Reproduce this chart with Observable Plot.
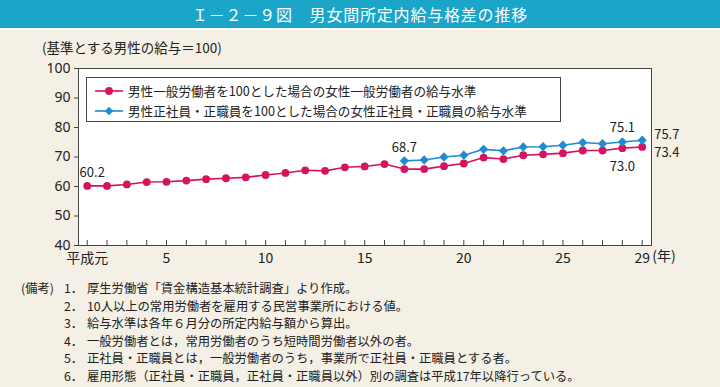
<!DOCTYPE html>
<html><head><meta charset="utf-8">
<script src="https://cdn.jsdelivr.net/npm/d3@7"></script>
<script src="https://cdn.jsdelivr.net/npm/@observablehq/plot@0.6"></script>
<style>
body{margin:0;background:#f4f0e6;font-family:"Noto Sans CJK JP","Noto Sans",sans-serif;color:#222;}
#wrap{position:relative;width:720px;height:387px;overflow:hidden;background:#f4f0e6;}
#title{position:absolute;left:0;top:0;width:720px;height:28px;background:#1ba5c9;border-bottom:2px solid #fff;color:#fff;font-size:16px;line-height:28px;text-align:center;letter-spacing:0.8px;}
#ylabel{position:absolute;left:42px;top:40px;font-size:13.5px;line-height:14px;white-space:nowrap;}
#chart{position:absolute;left:0;top:30px;}
#legend{position:absolute;left:86px;top:77px;width:473px;height:43px;border:1px solid #444;background:#fff;font-size:12.6px;}
.lrow{position:absolute;left:0;height:20px;line-height:20px;white-space:nowrap;}
.lrow svg{position:absolute;left:8px;top:4px;}
.lrow span{position:absolute;left:41px;top:0;}
.note{position:absolute;font-size:12.3px;line-height:16px;white-space:nowrap;}
</style></head>
<body>
<div id="wrap">
  <div id="title"></div>
  <div id="ylabel"></div>
  <div id="chart"></div>
  <div id="legend"></div>
  <div id="notes"></div>
</div>
<script>
// ---- data ----
const titleText = "Ｉ－２－９図　男女間所定内給与格差の推移";
const yAxisLabel = "(基準とする男性の給与＝100)";
const years = [1,2,3,4,5,6,7,8,9,10,11,12,13,14,15,16,17,18,19,20,21,22,23,24,25,26,27,28,29];
const generalRatio = [60.2,60.2,60.7,61.5,61.6,62.0,62.5,62.8,63.1,63.9,64.6,65.5,65.3,66.5,66.8,67.6,65.9,65.9,66.9,67.8,69.8,69.3,70.6,70.9,71.3,72.2,72.2,73.0,73.4];
const regularYears = [17,18,19,20,21,22,23,24,25,26,27,28,29];
const regularRatio = [68.7,69.0,70.0,70.6,72.6,72.1,73.4,73.5,74.0,74.9,74.5,75.1,75.7];
const xTickValues = [1,5,10,15,20,25,29];
const xTickLabels = ["平成元","5","10","15","20","25","29"];
const yTickValues = [40,50,60,70,80,90,100];
const yearUnit = "(年)";
const seriesNames = [
  "男性一般労働者を100とした場合の女性一般労働者の給与水準",
  "男性正社員・正職員を100とした場合の女性正社員・正職員の給与水準"
];
const noteHead = "(備考)";
const noteNums = ["1．","2．","3．","4．","5．","6．"];
const noteTexts = [
  "厚生労働省「賃金構造基本統計調査」より作成。",
  "10人以上の常用労働者を雇用する民営事業所における値。",
  "給与水準は各年６月分の所定内給与額から算出。",
  "一般労働者とは，常用労働者のうち短時間労働者以外の者。",
  "正社員・正職員とは，一般労働者のうち，事業所で正社員・正職員とする者。",
  "雇用形態（正社員・正職員，正社員・正職員以外）別の調査は平成17年以降行っている。"
];

// ---- build ----
const PINK = "#d6135f", BLUE = "#1f8bd3";
const FONT = '"Noto Sans CJK JP","Noto Sans",sans-serif';
document.getElementById("title").textContent = titleText;
document.getElementById("ylabel").textContent = yAxisLabel;

const gen = years.map((y,i)=>({year:y, v:generalRatio[i]}));
const reg = regularYears.map((y,i)=>({year:y, v:regularRatio[i]}));
const fmt = d => d.v.toFixed(1);

const chart = Plot.plot({
  width: 720, height: 240,
  marginTop: 38, marginBottom: 25, marginLeft: 78, marginRight: 69,
  style: {background: "transparent", fontFamily: FONT, color: "#222", overflow: "visible"},
  x: {domain: [0.56, 29.47]},
  y: {domain: [40, 100]},
  marks: [
    Plot.frame({fill: "white"}),
    Plot.axisY({ticks: yTickValues, tickSize: 4, tickPadding: 4, fontSize: 14, fontFamily: "Noto Sans", label: null, stroke: "#444"}),
    Plot.axisX({ticks: years, tickSize: 5, dy: -5, tickFormat: () => "", label: null, stroke: "#444"}),
    Plot.axisX({ticks: xTickValues, tickSize: 0, tickPadding: 8, fontSize: 14, label: null,
      tickFormat: d => xTickLabels[xTickValues.indexOf(d)]}),
    Plot.text([yearUnit], {x: [years[years.length-1]], frameAnchor: "bottom", dy: 15, dx: 10, textAnchor: "start", fontSize: 14}),
    Plot.line(gen, {x: "year", y: "v", stroke: PINK, strokeWidth: 1.6}),
    Plot.dot(gen, {x: "year", y: "v", fill: PINK, r: 3.9}),
    Plot.line(reg, {x: "year", y: "v", stroke: BLUE, strokeWidth: 1.6}),
    Plot.dot(reg, {x: "year", y: "v", fill: BLUE, symbol: "square", rotate: 45, r: 3.7}),
    Plot.text([gen[0]], {x: "year", y: "v", text: fmt, dx: 5, dy: -13, fontSize: 13}),
    Plot.text([reg[0]], {x: "year", y: "v", text: fmt, dx: 0, dy: -13, fontSize: 13}),
    Plot.text([reg[11]], {x: "year", y: "v", text: fmt, dx: 0, dy: -14, fontSize: 13}),
    Plot.text([gen[27]], {x: "year", y: "v", text: fmt, dx: 0, dy: 19, fontSize: 13}),
    Plot.text([reg[12]], {x: "year", y: "v", text: fmt, dx: 12, dy: -5, textAnchor: "start", fontSize: 13}),
    Plot.text([gen[28]], {x: "year", y: "v", text: fmt, dx: 12, dy: 6, textAnchor: "start", fontSize: 13}),
    Plot.frame({stroke: "#444"})
  ]
});
document.getElementById("chart").appendChild(chart);

// legend
const legend = document.getElementById("legend");
seriesNames.forEach((name, i) => {
  const row = document.createElement("div");
  row.className = "lrow";
  row.style.top = (3 + i*20) + "px";
  const col = i === 0 ? PINK : BLUE;
  const marker = i === 0
    ? `<circle cx="14" cy="6" r="3.9" fill="${col}"/>`
    : `<rect x="11" y="3" width="6" height="6" fill="${col}" transform="rotate(45 14 6)"/>`;
  row.innerHTML = `<svg width="28" height="12"><line x1="0" y1="6" x2="28" y2="6" stroke="${col}" stroke-width="1.6"/>${marker}</svg><span></span>`;
  row.querySelector("span").textContent = name;
  legend.appendChild(row);
});

// notes
const notes = document.getElementById("notes");
const head = document.createElement("div");
head.className = "note"; head.style.left = "21px"; head.style.top = "280px";
head.textContent = noteHead; notes.appendChild(head);
noteTexts.forEach((t, i) => {
  const top = 280 + i*17.6;
  const n = document.createElement("div");
  n.className = "note"; n.style.left = "64px"; n.style.top = top + "px";
  n.textContent = noteNums[i]; notes.appendChild(n);
  const d = document.createElement("div");
  d.className = "note"; d.style.left = "87px"; d.style.top = top + "px";
  d.textContent = t; notes.appendChild(d);
});
</script>
</body></html>
